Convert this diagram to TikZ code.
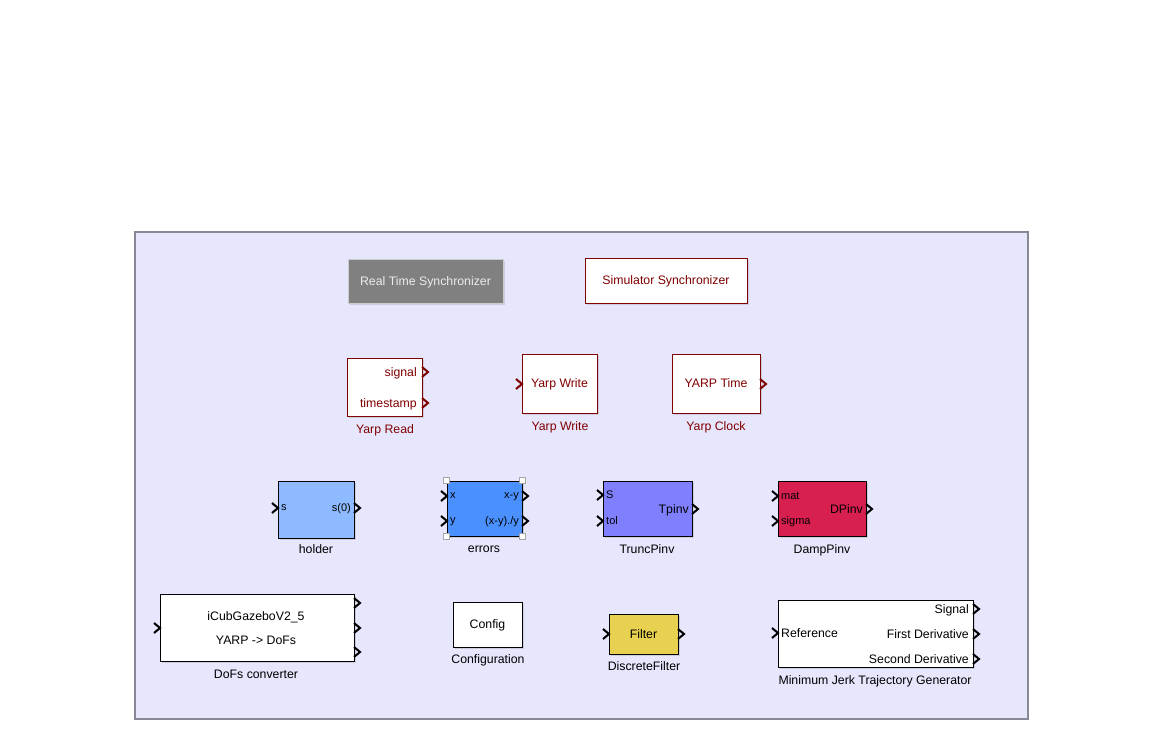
\documentclass[tikz,border=0pt]{standalone}
\usepackage{fontspec}
\setmainfont{Liberation Sans}
\usepackage{tikz}
\usetikzlibrary{calc,shapes,positioning,shadows}
\definecolor{panelbg}{RGB}{230,230,253}
\definecolor{panelrule}{RGB}{136,136,150}
\definecolor{yarpred}{RGB}{128,0,0}
\definecolor{holderblue}{RGB}{142,186,255}
\definecolor{errblue}{RGB}{74,144,255}
\definecolor{truncviolet}{RGB}{128,128,255}
\definecolor{damprose}{RGB}{216,32,80}
\definecolor{filteryellow}{RGB}{232,208,80}
\tikzset{
  inport/.pic={\draw[line width=2pt, line join=miter] (-6,-5) -- (0,0) -- (-6,5);},
  outport/.pic={\draw[line width=2pt, line join=miter] (0,-5) -- (6,0) -- (0,5);},
  handle/.pic={\draw[gray!70, fill=white, line width=0.6pt] (-3,-3) rectangle (3,3);}
}

\begin{document}
\begin{tikzpicture}[x=1pt,y=-1pt]
    \tikzstyle{block} = [draw=black, line width=0.8pt, rectangle, align=center, inner sep=0pt, text depth=0pt,
      font=\fontsize{12.3}{15}\selectfont, drop shadow={opacity=0.25, shadow xshift=2pt, shadow yshift=-2pt}]
    \tikzstyle{yblock} = [block, draw=yarpred, text=yarpred, fill=white]
    \tikzstyle{plabel} = [inner sep=1pt, text depth=0pt, font=\fontsize{12.3}{15}\selectfont]
    \tikzstyle{slabel} = [inner sep=1pt, text depth=0pt, font=\fontsize{11}{13}\selectfont]
    \tikzstyle{caption} = [inner sep=0pt, text depth=0pt, font=\fontsize{12.3}{15}\selectfont]
    \useasboundingbox (0,0) rectangle (1162,752);
    \fill[white] (0,0) rectangle (1162,752);
    \node[draw=panelrule, fill=panelbg, line width=1.2pt, minimum width=893pt, minimum height=487pt, inner sep=0pt] (panel) at (581.5,475.5) {};

    % synchronizers
    \node[block, fill=gray, draw=gray!40, text=gray!15, minimum width=155pt, minimum height=44pt] (rts) at (425.5,281) {Real Time Synchronizer};
    \node[yblock, minimum width=162pt, minimum height=45pt] (sim) at (666,280.5) {Simulator Synchronizer};

    % yarp blocks
    \node[yblock, minimum width=75pt, minimum height=58pt] (yread) at (384.5,387) {};
    \node[plabel, text=yarpred, anchor=east] (yreadsig) at (418,372) {signal};
    \node[plabel, text=yarpred, anchor=east] (yreadts) at (418,403) {timestamp};
    \node[caption, text=yarpred] (yreadcap) at (385,429) {Yarp Read};
    \node[yblock, minimum width=75pt, minimum height=59pt] (ywrite) at (559.5,383.5) {Yarp Write};
    \node[caption, text=yarpred] (ywritecap) at (560,426) {Yarp Write};
    \node[yblock, minimum width=88pt, minimum height=59pt] (yclock) at (716,383.5) {YARP Time};
    \node[caption, text=yarpred] (yclockcap) at (716,426) {Yarp Clock};
    \begin{scope}[yarpred]
      \pic at (422,372) {outport};
      \pic at (422,403) {outport};
      \pic at (522,384) {inport};
      \pic at (760,384) {outport};
    \end{scope}

    % function blocks
    \node[block, fill=holderblue, minimum width=76pt, minimum height=57pt] (holder) at (316,509.5) {};
    \node[slabel, anchor=west] (holders) at (280,508) {s};
    \node[slabel, anchor=east] (holdero) at (352,508) {s(0)};
    \node[caption] (holdercap) at (316,549) {holder};
    \pic at (278,508) {inport};
    \pic at (354,508) {outport};

    \node[block, fill=errblue, minimum width=75pt, minimum height=55pt] (errors) at (484.5,508.5) {};
    \node[slabel, anchor=west] (errx) at (449,496) {x};
    \node[slabel, anchor=west] (erry) at (449,521) {y};
    \node[slabel, anchor=east] (errd) at (520,496) {x-y};
    \node[slabel, anchor=east] (errr) at (520,521) {(x-y)./y};
    \node[caption] (errcap) at (484,549) {errors};
    \pic at (447,496) {inport};
    \pic at (447,521) {inport};
    \pic at (522,496) {outport};
    \pic at (522,521) {outport};
    \foreach \c in {north west, north east, south west, south east}
      \pic at (errors.\c) {handle};

    \node[block, fill=truncviolet, minimum width=89pt, minimum height=55pt] (trunc) at (647.5,508.5) {};
    \node[slabel, anchor=west] (truncs) at (605,495) {S};
    \node[slabel, anchor=west] (trunct) at (605,521) {tol};
    \node[plabel, anchor=east] (trunco) at (690,509) {Tpinv};
    \node[caption] (trunccap) at (647,549) {TruncPinv};
    \pic at (603,495) {inport};
    \pic at (603,521) {inport};
    \pic at (692,509) {outport};

    \node[block, fill=damprose, minimum width=88pt, minimum height=55pt] (damp) at (822,508.5) {};
    \node[slabel, anchor=west] (dampm) at (780,496) {mat};
    \node[slabel, anchor=west] (damps) at (780,521) {sigma};
    \node[plabel, anchor=east] (dampo) at (864,509) {DPinv};
    \node[caption] (dampcap) at (822,549) {DampPinv};
    \pic at (778,496) {inport};
    \pic at (778,521) {inport};
    \pic at (866,509) {outport};

    % bottom row
    \node[block, fill=white, minimum width=194pt, minimum height=67pt] (dofs) at (257,627.5) {};
    \node[plabel] (dofsa) at (256,616) {iCubGazeboV2\_5};
    \node[plabel] (dofsb) at (256,640) {YARP -> DoFs};
    \node[caption] (dofscap) at (256,674) {DoFs converter};
    \pic at (160,628) {inport};
    \pic at (354,603) {outport};
    \pic at (354,628) {outport};
    \pic at (354,652) {outport};

    \node[block, fill=white, minimum width=69pt, minimum height=45pt] (config) at (487.5,624.5) {Config};
    \node[caption] (configcap) at (488,659) {Configuration};

    \node[block, fill=filteryellow, minimum width=69pt, minimum height=40pt] (filter) at (643.5,634) {Filter};
    \node[caption] (filtercap) at (644,666) {DiscreteFilter};
    \pic at (609,634) {inport};
    \pic at (678,634) {outport};

    \node[block, fill=white, minimum width=195pt, minimum height=67pt] (minjerk) at (875.5,633.5) {};
    \node[plabel, anchor=west] (mjref) at (780,633) {Reference};
    \node[plabel, anchor=east] (mjsig) at (970,609) {Signal};
    \node[plabel, anchor=east] (mjfirst) at (970,634) {First Derivative};
    \node[plabel, anchor=east] (mjsecond) at (970,659) {Second Derivative};
    \node[caption] (mjcap) at (875,680) {Minimum Jerk Trajectory Generator};
    \pic at (778,633) {inport};
    \pic at (973,609) {outport};
    \pic at (973,634) {outport};
    \pic at (973,659) {outport};
\end{tikzpicture}
\end{document}
